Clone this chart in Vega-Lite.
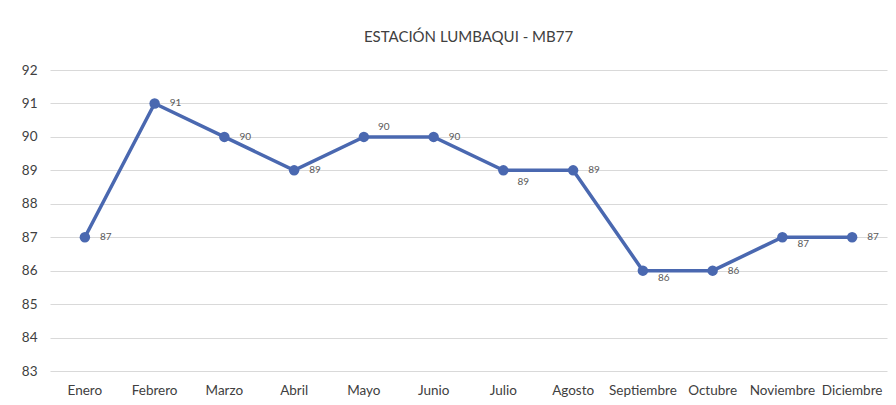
{
  "$schema": "https://vega.github.io/schema/vega-lite/v6.json",
  "width": 837,
  "height": 301,
  "autosize": {"type": "none"},
  "padding": {"left": 50, "top": 70, "right": 9, "bottom": 34},
  "background": "white",
  "title": {
    "text": "ESTACIÓN LUMBAQUI - MB77",
    "font": "Lato",
    "fontSize": 15,
    "fontWeight": "normal",
    "color": "#404040",
    "anchor": "middle",
    "offset": 18
  },
  "config": {
    "view": {"stroke": null},
    "font": "Lato"
  },
  "data": {
    "values": [
      {"mes": "Enero", "valor": 87},
      {"mes": "Febrero", "valor": 91},
      {"mes": "Marzo", "valor": 90},
      {"mes": "Abril", "valor": 89},
      {"mes": "Mayo", "valor": 90},
      {"mes": "Junio", "valor": 90},
      {"mes": "Julio", "valor": 89},
      {"mes": "Agosto", "valor": 89},
      {"mes": "Septiembre", "valor": 86},
      {"mes": "Octubre", "valor": 86},
      {"mes": "Noviembre", "valor": 87},
      {"mes": "Diciembre", "valor": 87}
    ]
  },
  "encoding": {
    "x": {
      "field": "mes",
      "type": "nominal",
      "sort": null,
      "scale": {"type": "band", "paddingInner": 0, "paddingOuter": 0},
      "axis": {
        "title": null,
        "labelAngle": 0,
        "labelFont": "Lato",
        "labelFontSize": 13.5,
        "labelColor": "#404040",
        "labelPadding": 12,
        "ticks": false,
        "domain": false,
        "grid": false
      }
    },
    "y": {
      "field": "valor",
      "type": "quantitative",
      "scale": {"domain": [83, 92], "nice": false, "zero": false},
      "axis": {
        "title": null,
        "values": [83, 84, 85, 86, 87, 88, 89, 90, 91, 92],
        "labelFont": "Lato",
        "labelFontSize": 13.5,
        "labelColor": "#404040",
        "labelPadding": 13,
        "ticks": false,
        "domain": false,
        "grid": true,
        "gridColor": "#d9d9d9",
        "gridWidth": 1
      }
    }
  },
  "layer": [
    {
      "mark": {"type": "line", "color": "#4a68b0", "strokeWidth": 3.5}
    },
    {
      "mark": {"type": "point", "filled": true, "opacity": 1, "color": "#4a68b0", "size": 110}
    },
    {
      "transform": [{"filter": "indexof(['Mayo','Julio','Septiembre','Noviembre'], datum.mes) < 0"}],
      "mark": {"type": "text", "align": "left", "baseline": "middle", "dx": 15, "fontSize": 10, "color": "#595959", "font": "Lato"},
      "encoding": {"text": {"field": "valor", "type": "quantitative"}}
    },
    {
      "transform": [{"filter": "datum.mes == 'Mayo'"}],
      "mark": {"type": "text", "align": "left", "baseline": "middle", "dx": 14, "dy": -10, "fontSize": 10, "color": "#595959", "font": "Lato"},
      "encoding": {"text": {"field": "valor", "type": "quantitative"}}
    },
    {
      "transform": [{"filter": "datum.mes == 'Julio'"}],
      "mark": {"type": "text", "align": "left", "baseline": "middle", "dx": 14, "dy": 12, "fontSize": 10, "color": "#595959", "font": "Lato"},
      "encoding": {"text": {"field": "valor", "type": "quantitative"}}
    },
    {
      "transform": [{"filter": "datum.mes == 'Septiembre' || datum.mes == 'Noviembre'"}],
      "mark": {"type": "text", "align": "left", "baseline": "middle", "dx": 15, "dy": 7, "fontSize": 10, "color": "#595959", "font": "Lato"},
      "encoding": {"text": {"field": "valor", "type": "quantitative"}}
    }
  ]
}
